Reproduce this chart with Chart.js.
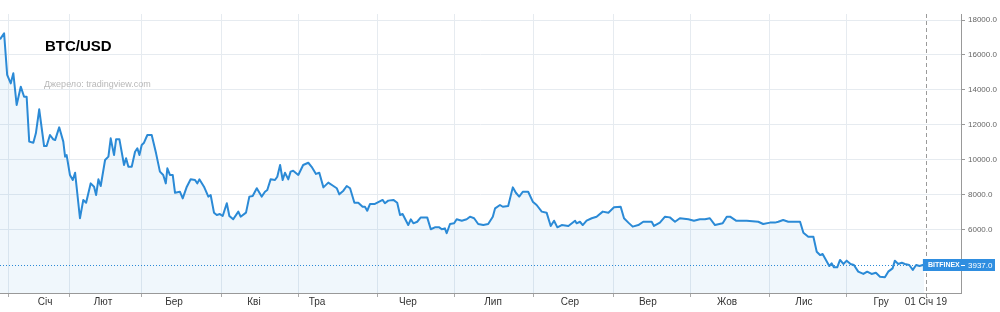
<!DOCTYPE html>
<html><head><meta charset="utf-8">
<script src="https://cdn.jsdelivr.net/npm/chart.js@4.4.0/dist/chart.umd.min.js"></script>
<style>
html,body{margin:0;padding:0;background:#fff;}
#wrap{position:relative;width:1000px;height:312px;overflow:hidden;}
#title{position:absolute;left:45px;top:38px;font:bold 15px/15px "Liberation Sans",Arial,sans-serif;color:#000;}
#src{position:absolute;left:44px;top:79px;font:9px/10px "Liberation Sans",Arial,sans-serif;color:#b8b8b8;}
</style></head><body>
<div id="wrap"><canvas id="c" width="1000" height="312"></canvas>
<div id="title">BTC/USD</div><div id="src">Джерело: tradingview.com</div></div>
<script>
// day of 2018 (0 = 1 Jan 2018)
const days = [
 3.7,5.3,6.5,7.9,8.9,10.2,11.8,13.1,14.1,15.1,
 16.7,17.7,19.0,20.9,21.9,23.2,24.5,25.2,26.8,28.4,
 29.1,29.7,31.0,32.1,33.0,34.9,36.2,37.3,39.1,40.4,
 41.2,42.1,43.0,44.7,46.0,46.9,48.2,49.0,50.3,52.1,
 52.9,53.8,55.1,56.4,57.3,58.1,59.0,59.9,61.2,62.9,
 64.6,66.1,67.4,68.4,69.0,70.0,71.1,72.0,73.9,75.0,
 76.6,78.1,79.8,80.7,81.5,83.3,85.0,85.9,87.2,88.3,
 89.5,90.6,92.2,93.2,94.7,96.7,97.6,99.7,101.0,102.3,
 103.9,105.8,107.1,108.0,109.3,111.0,111.9,113.0,114.0,114.9,
 116.2,117.1,118.1,120.1,122.0,124.0,125.3,127.0,128.3,
 129.9,131.8,133.8,135.1,136.1,137.7,139.0,140.3,142.0,143.5,
 145.2,146.1,147.0,148.1,150.0,153.0,153.9,155.2,157.2,158.7,
 159.8,160.8,163.0,164.0,165.0,166.5,167.9,170.4,171.8,173.4,
 175.1,176.1,177.3,178.0,179.3,180.9,181.9,183.9,185.8,187.1,
 188.7,190.3,192.3,194.2,196.0,196.9,198.8,199.9,202.0,203.8,
 205.0,206.3,207.7,209.8,211.6,213.1,215.1,217.0,218.6,219.9,
 221.2,222.9,225.5,228.1,228.7,230.0,231.1,232.6,234.6,236.5,
 238.9,241.1,243.3,245.9,247.2,248.9,250.6,252.8,
 254.7,258.0,258.9,261.2,263.2,265.1,267.1,269.0,272.3,274.5,
 276.8,278.8,280.7,282.7,285.7,287.3,288.6,290.9,295.1,299.6,
 301.5,304.2,306.1,307.4,309.3,311.3,315.9,317.2,319.1,321.1,
 322.4,323.7,324.7,326.0,327.3,328.2,329.1,330.4,331.5,332.8,
 334.1,335.6,336.9,338.6,340.6,342.1,343.8,345.5,347.1,349.0,
 350.3,352.0,352.9,354.2,355.6,356.8,358.5,359.9,361.2,362.5,363.8,364.3
];
const prices = [
 16890,17240,14850,14370,14950,13130,14180,13600,13600,11030,
 10970,11510,12880,10780,10780,11410,11160,11120,11850,11030,
 10170,10260,9120,8830,9250,6640,7690,7530,8640,8450,
 7970,8870,8490,9980,10170,11220,10260,11160,11160,9690,
 10080,9590,9590,10450,10650,10260,10840,10970,11410,11410,
 10360,9310,9120,8640,9500,9120,9120,8100,8160,7780,
 8450,8870,8830,8640,8870,8450,7880,7970,6960,6830,
 6880,6770,7500,6770,6580,7020,6730,6960,7880,7920,
 8360,7880,8160,8260,8870,8830,9020,9690,8830,9250,
 8870,9310,9360,9120,9690,9820,9590,9180,9250,
 8410,8680,8490,8360,8010,8220,8490,8360,7530,7530,
 7300,7300,7070,7460,7460,7690,7500,7650,7690,7530,
 6830,6880,6250,6580,6350,6440,6690,6690,6010,6120,
 6120,6010,6060,5780,6310,6350,6580,6500,6580,6730,
 6640,6310,6250,6310,6730,7210,7400,7300,7340,8410,
 8100,7880,8160,8160,7590,7400,7020,6960,6200,6500,
 6120,6250,6200,6500,6350,6440,6250,6500,6640,6730,
 7020,6960,7270,7300,6640,6390,6160,6250,
 6440,6440,6200,6390,6730,6690,6440,6640,6580,6500,
 6580,6580,6640,6250,6350,6730,6730,6500,6500,6440,
 6310,6390,6390,6440,6540,6440,6440,5810,5580,5580,
 4720,4530,4590,4250,3900,4060,3830,3830,4250,4020,
 4210,4020,3960,3580,3450,3580,3450,3520,3290,3260,
 3580,3770,4210,4020,4090,4020,3960,3680,3960,3900,3960,3937
];
const lastPrice = 3937;
const exchangeName = 'BITFINEX';
const gridDays = [7,31,59,90,120,151,181,212,243,273,304,334];
const todayDay = 365;
const monthLabels = ['Січ','Лют','Бер','Кві','Тра','Чер','Лип','Сер','Вер','Жов','Лис','Гру','01 Січ 19'];
const monthLabelDays = [21.3,43.9,71.6,102.8,127.4,162.9,196.1,226.1,256.5,287.4,317.4,347.5,365];
const yTicks = [6000,8000,10000,12000,14000,16000,18000];
const xRange = [3.7, 378.7];
const yRange = [2357, 18344];

const FONT = '"Liberation Sans", Arial, sans-serif';
const LINE = '#2b8ad6';

const overlay = {
  id: 'overlay',
  afterDatasetsDraw(chart) {
    const {ctx, chartArea: a, scales: {xg, y}} = chart;
    const px = Math.round(xg.getPixelForValue(todayDay)) + 0.5;
    const py = Math.round(y.getPixelForValue(lastPrice)) + 0.5;
    ctx.save();
    ctx.lineWidth = 1;
    ctx.strokeStyle = LINE;
    ctx.setLineDash([1, 2]);
    ctx.beginPath(); ctx.moveTo(a.left, py); ctx.lineTo(px, py); ctx.stroke();
    ctx.strokeStyle = '#9a9a9a';
    ctx.setLineDash([4, 3]);
    ctx.beginPath(); ctx.moveTo(px, a.top); ctx.lineTo(px, a.bottom + 4); ctx.stroke();
    ctx.restore();
  },
  afterDraw(chart) {
    const {ctx, chartArea: a, scales: {xg, y}} = chart;
    const px = xg.getPixelForValue(todayDay);
    const py = Math.round(y.getPixelForValue(lastPrice));
    ctx.save();
    ctx.fillStyle = '#2f8ee0';
    ctx.fillRect(px - 3, py - 6, 995 - (px - 3), 12);
    ctx.fillStyle = '#fff';
    ctx.textBaseline = 'middle';
    ctx.font = '600 7px ' + FONT;
    ctx.fillText(exchangeName, px + 2, py + 0.5);
    ctx.fillRect(a.right, py, 4, 1);
    ctx.font = '8px ' + FONT;
    ctx.fillText(lastPrice.toFixed(1), a.right + 7, py + 0.5);
    ctx.restore();
  }
};

new Chart(document.getElementById('c'), {
  type: 'line',
  data: {
    datasets: [{
      data: days.map((d, i) => ({x: d, y: prices[i]})),
      borderColor: LINE,
      borderWidth: 2,
      backgroundColor: 'rgba(43,138,214,0.07)',
      fill: 'start',
      pointRadius: 0,
      tension: 0,
      borderJoinStyle: 'round'
    }]
  },
  options: {
    responsive: false,
    animation: false,
    devicePixelRatio: 1,
    layout: {padding: {top: 14, left: 0, right: 0, bottom: 0}},
    plugins: {legend: {display: false}, tooltip: {enabled: false}},
    scales: {
      x: {
        type: 'linear', position: 'bottom', weight: 1,
        min: xRange[0], max: xRange[1],
        afterBuildTicks: s => { s.ticks = monthLabelDays.map(v => ({value: v})); },
        ticks: {autoSkip: false, maxRotation: 0, minRotation: 0, padding: 3, color: '#333',
          font: {size: 10, family: FONT}, callback: (v, i) => monthLabels[i]},
        grid: {display: false, drawTicks: false},
        border: {display: false},
        afterFit: s => { s.height = 19; }
      },
      xg: {
        type: 'linear', position: 'bottom', weight: 0,
        min: xRange[0], max: xRange[1],
        afterBuildTicks: s => { s.ticks = gridDays.map(v => ({value: v})); },
        ticks: {display: false, autoSkip: false},
        grid: {color: '#e6ebf0', tickColor: '#aaa', tickLength: 4, drawTicks: true},
        border: {display: true, color: '#999'},
        afterFit: s => { s.height = 0; }
      },
      y: {
        position: 'right',
        min: yRange[0], max: yRange[1],
        afterBuildTicks: s => { s.ticks = yTicks.map(v => ({value: v})); },
        ticks: {color: '#666', padding: 3, font: {size: 8, family: FONT},
          callback: v => Number(v).toFixed(1)},
        grid: {color: '#e6ebf0', tickColor: '#999', tickLength: 4},
        border: {color: '#999'},
        afterFit: s => { s.width = 39; }
      }
    }
  },
  plugins: [overlay]
});
</script>
</body></html>
